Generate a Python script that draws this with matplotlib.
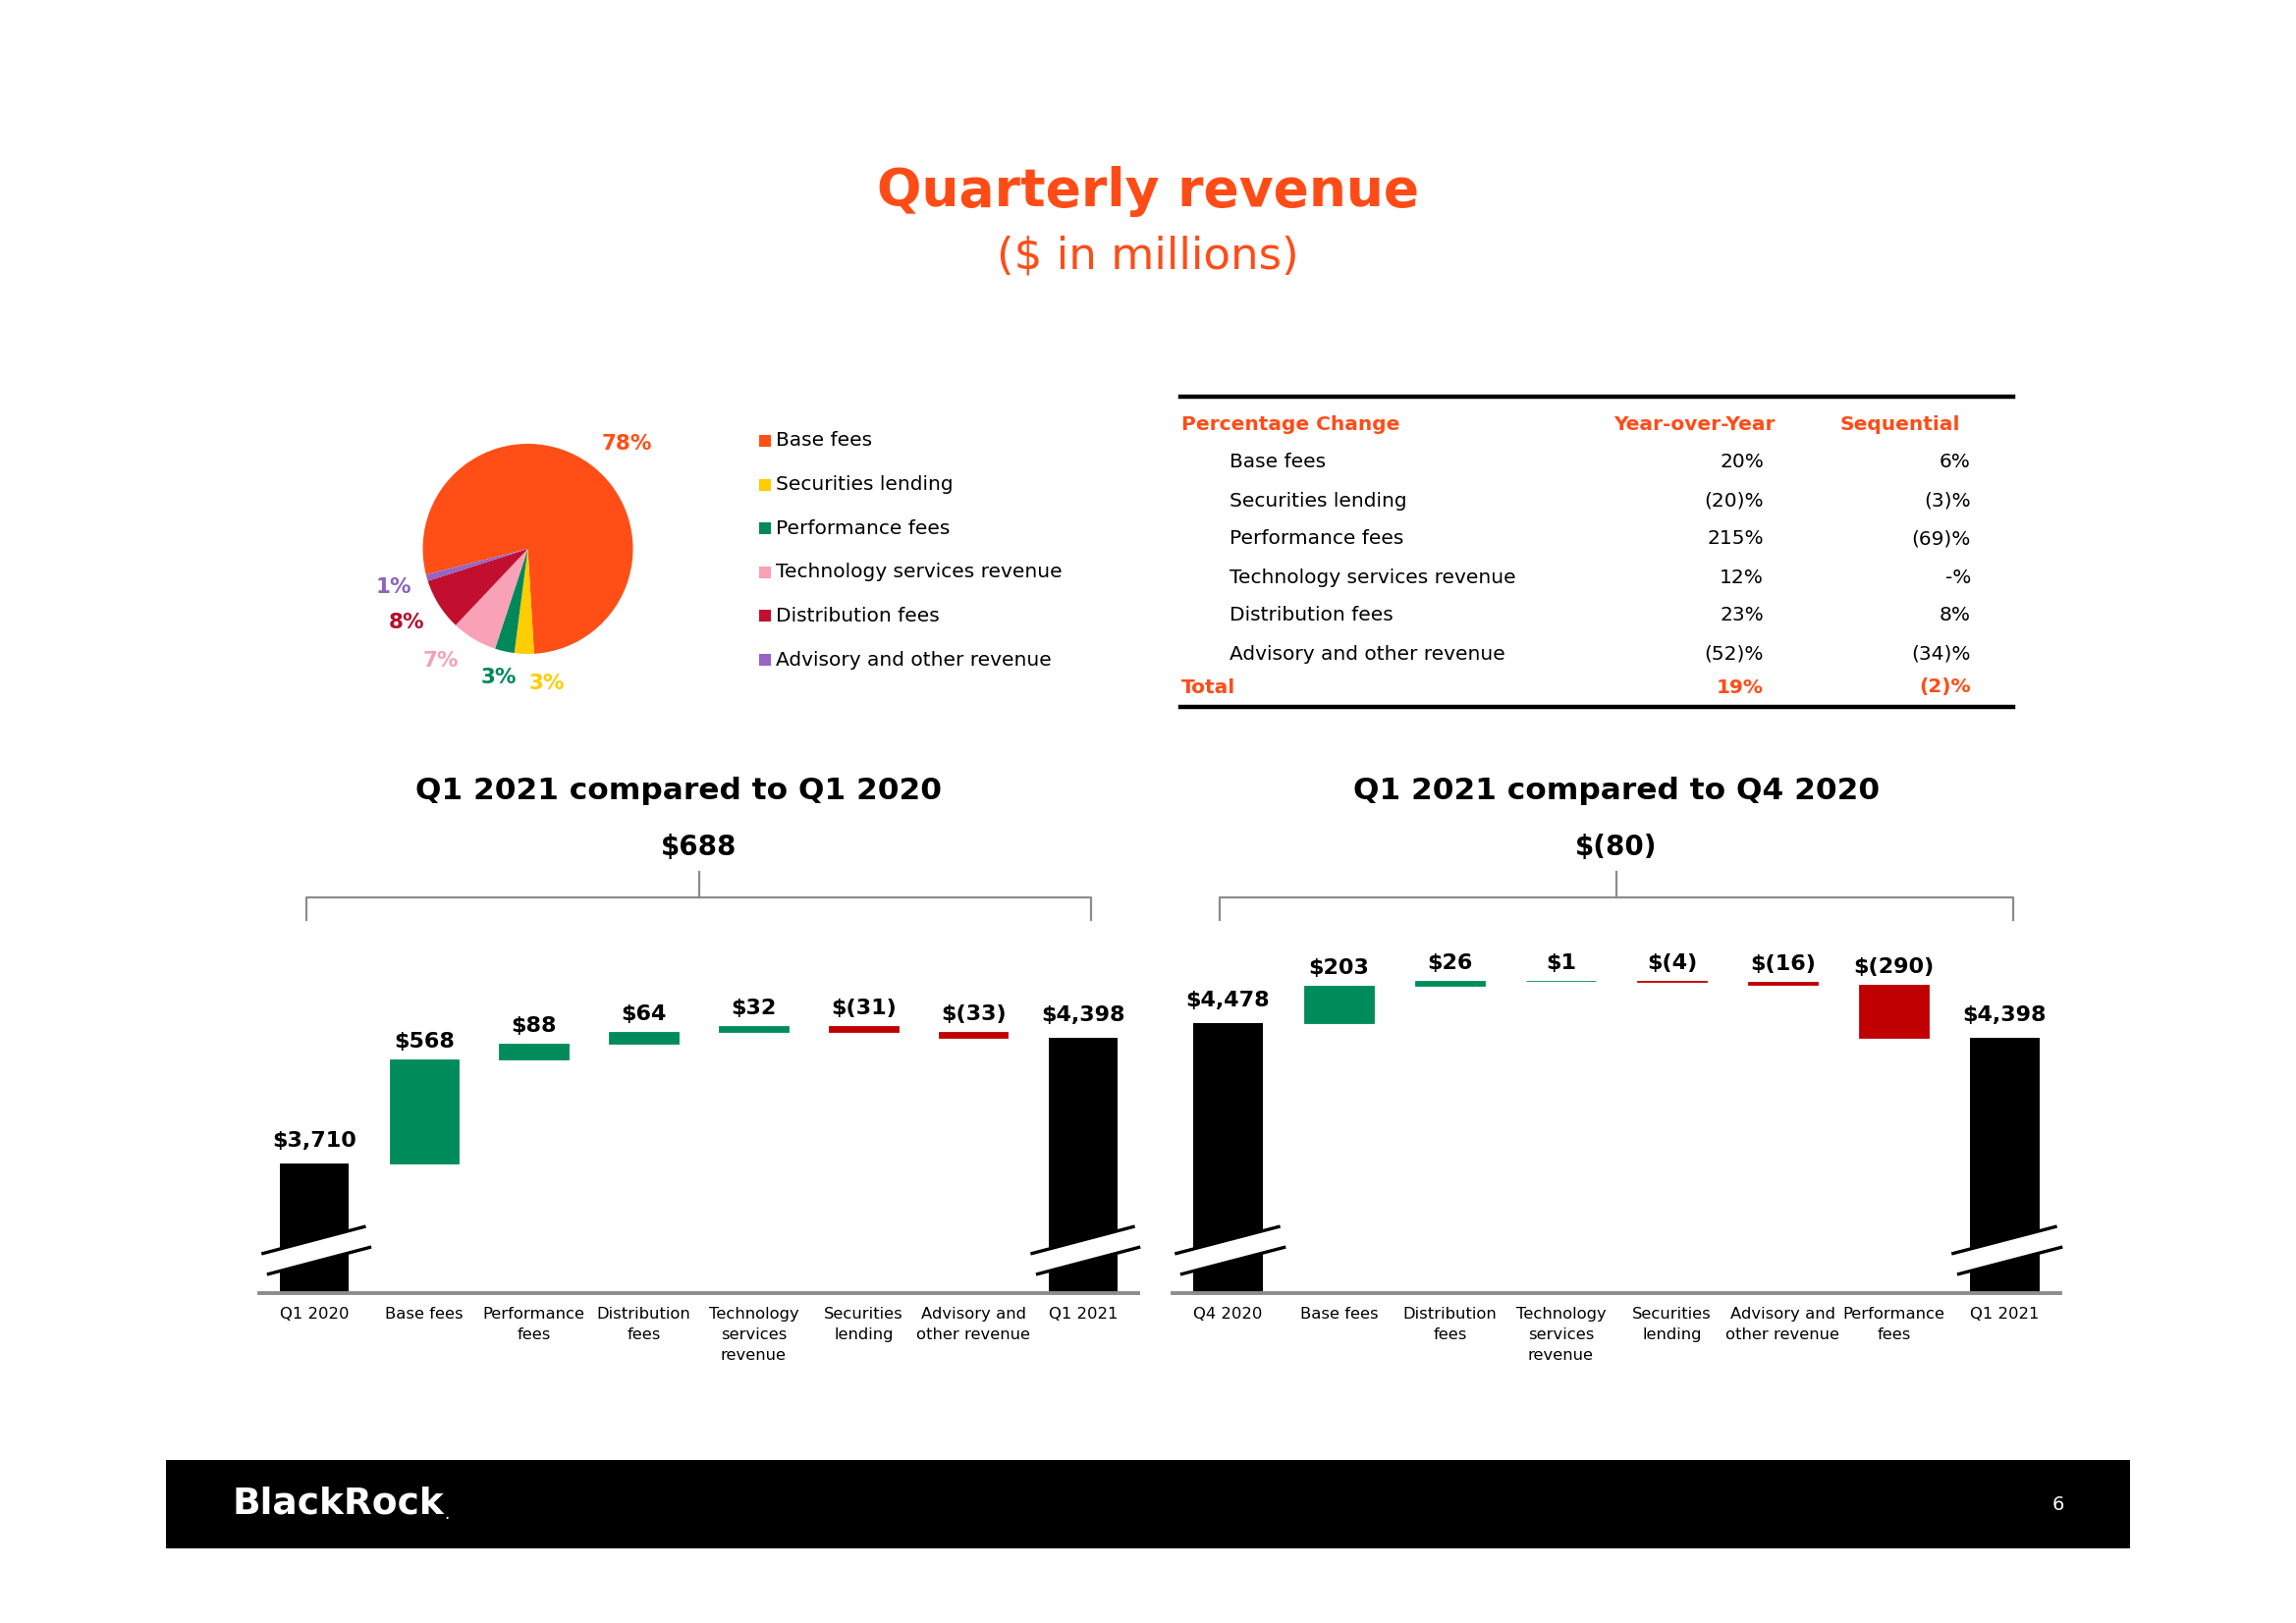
##quarterly revenue slide: pie, % change table, two waterfalls
import matplotlib
matplotlib.use('Agg')
import matplotlib.pyplot as plt
from matplotlib.patches import Rectangle, Polygon
from matplotlib.lines import Line2D
import numpy as np

#define
W, H = 2338, 1653
DPI = 100

orange = '#FF4C17'
green = '#008C5A'
red = '#C00000'
gray = '#8C8C8C'

#pie data (share of Q1 2021 revenue, %)
pie_labels = ['Base fees', 'Securities lending', 'Performance fees',
              'Technology services revenue', 'Distribution fees',
              'Advisory and other revenue']
pie_pct = [78, 3, 3, 7, 8, 1]
pie_colors = ['#FF4F17', '#FFCD00', '#00875A', '#F9A1B6', '#C20F30', '#9464C6']
pie_text_colors = ['#FF4F17', '#FFCD00', '#00875A', '#F4A0B8', '#B5102E', '#8E63BE']

#table data
tbl_rows = ['Base fees', 'Securities lending', 'Performance fees',
            'Technology services revenue', 'Distribution fees',
            'Advisory and other revenue']
tbl_yoy = ['20%', '(20)%', '215%', '12%', '23%', '(52)%']
tbl_seq = ['6%', '(3)%', '(69)%', '-%', '8%', '(34)%']
tbl_total = ['19%', '(2)%']

#waterfall data ($ in millions)
yoy_cats = ['Q1 2020', 'Base fees', 'Performance\nfees', 'Distribution\nfees',
            'Technology\nservices\nrevenue', 'Securities\nlending',
            'Advisory and\nother revenue', 'Q1 2021']
yoy_vals = [3710, 568, 88, 64, 32, -31, -33, 4398]
yoy_change = 688

seq_cats = ['Q4 2020', 'Base fees', 'Distribution\nfees',
            'Technology\nservices\nrevenue', 'Securities\nlending',
            'Advisory and\nother revenue', 'Performance\nfees', 'Q1 2021']
seq_vals = [4478, 203, 26, 1, -4, -16, -290, 4398]
seq_change = -80

Y0, Y1 = 3000, 5400


def fx(x):
    return x / W


def fy(y):
    return 1 - y / H


def px_rect(x0, y0, x1, y1):
    return [x0 / W, 1 - y1 / H, (x1 - x0) / W, (y1 - y0) / H]


def money(v):
    return f'${v:,}' if v >= 0 else f'$({-v:,})'


fig = plt.figure(figsize=(W / DPI, H / DPI), dpi=DPI)
fig.patch.set_facecolor('white')

#titles
fig.text(0.5, fy(195), 'Quarterly revenue', ha='center', va='center',
         fontsize=38.5, fontweight='heavy', color=orange)
fig.text(0.5, fy(261), '($ in millions)', ha='center', va='center',
         fontsize=32.5, color=orange)

#pie
axp = fig.add_axes(px_rect(537.5 - 214, 559 - 214, 537.5 + 214, 559 + 214))
wedges, _ = axp.pie(pie_pct, colors=pie_colors, startangle=194.2,
                    counterclock=False, radius=1,
                    wedgeprops=dict(linewidth=0))
axp.set_xlim(-2, 2)
axp.set_ylim(-2, 2)
axp.axis('off')
label_nudge = [-7, 10, 0, -7, -1, 0]
label_dist = [1.37, 1.29, 1.26, 1.35, 1.35, 1.33]
for w, p, c, dn, dd in zip(wedges, pie_pct, pie_text_colors, label_nudge, label_dist):
    ang = np.deg2rad((w.theta1 + w.theta2) / 2 + dn)
    axp.text(dd * np.cos(ang), dd * np.sin(ang), f'{p}%', color=c,
             ha='center', va='center', fontsize=15.5, fontweight='bold')

#pie legend
for i, (lab, c) in enumerate(zip(pie_labels, pie_colors)):
    y = 449 + 44.6 * i
    fig.add_artist(Rectangle((fx(773), fy(y + 6)), 12 / W, 12 / H,
                             transform=fig.transFigure, color=c, lw=0))
    fig.text(fx(790), fy(y), lab, ha='left', va='center', fontsize=14.5)

#table
for y in (404, 720):
    fig.add_artist(Line2D([fx(1202), fx(2050)], [fy(y), fy(y)], color='black',
                          lw=3.2, transform=fig.transFigure))
fig.text(fx(1203), fy(432), 'Percentage Change', ha='left', va='center',
         fontsize=14.5, fontweight='bold', color=orange)
fig.text(fx(1725), fy(432), 'Year-over-Year', ha='center', va='center',
         fontsize=14.5, fontweight='bold', color=orange)
fig.text(fx(1935), fy(432), 'Sequential', ha='center', va='center',
         fontsize=14.5, fontweight='bold', color=orange)
for i, (lab, a, b) in enumerate(zip(tbl_rows, tbl_yoy, tbl_seq)):
    y = 471 + 39 * i
    fig.text(fx(1252), fy(y), lab, ha='left', va='center', fontsize=14.5)
    fig.text(fx(1796), fy(y), a, ha='right', va='center', fontsize=14.5)
    fig.text(fx(2007), fy(y), b, ha='right', va='center', fontsize=14.5)
fig.text(fx(1203), fy(700), 'Total', ha='left', va='center',
         fontsize=14.5, fontweight='bold', color=orange)
fig.text(fx(1796), fy(700), tbl_total[0], ha='right', va='center',
         fontsize=14.5, fontweight='bold', color=orange)
fig.text(fx(2007), fy(700), tbl_total[1], ha='right', va='center',
         fontsize=14.5, fontweight='bold', color=orange)


def waterfall(rect, cats, vals, change):
    ax = fig.add_axes(px_rect(*rect))
    ax.set_xlim(-0.5, 7.5)
    ax.set_ylim(Y0, Y1)
    ppu = (rect[3] - rect[1]) / (Y1 - Y0)  # pixels per $
    level = 0
    n = len(vals)
    for i, v in enumerate(vals):
        if i == 0 or i == n - 1:
            ax.bar(i, v - Y0, bottom=Y0, width=0.63, color='black', zorder=2)
            top = v
            level = v
            gap = 17
        else:
            bottom = level if v > 0 else level + v
            c = green if v > 0 else red
            ax.bar(i, abs(v), bottom=bottom, width=0.63, color=c,
                   edgecolor=c, linewidth=0.6, zorder=2)
            top = max(level, level + v)
            level += v
            gap = 12
        ax.annotate(money(v), (i, top), xytext=(0, gap * 0.72),
                    textcoords='offset points', ha='center', va='baseline',
                    fontsize=16, fontweight='bold', zorder=4)

    #axis break marks on the two total bars
    for i in (0, n - 1):
        up = [(i - 0.48, Y0 + 40 / ppu), (i + 0.47, Y0 + 68 / ppu)]
        lo = [(i - 0.43, Y0 + 19 / ppu), (i + 0.52, Y0 + 47 / ppu)]
        ax.add_patch(Polygon([up[0], up[1], lo[1], lo[0]], closed=True,
                             facecolor='white', edgecolor='none', zorder=3,
                             clip_on=False))
        for seg in (up, lo):
            ax.plot([seg[0][0], seg[1][0]], [seg[0][1], seg[1][1]],
                    color='black', lw=2.4, zorder=3, clip_on=False,
                    solid_capstyle='butt')

    #bracket with total change
    yb = Y0 + 403 / ppu
    ax.plot([-0.075, -0.075, 7.075, 7.075],
            [yb - 23 / ppu, yb, yb, yb - 23 / ppu],
            color=gray, lw=1.6, clip_on=False)
    ax.plot([3.5, 3.5], [yb, yb + 26 / ppu], color=gray, lw=1.6, clip_on=False)
    ax.text(3.5, yb + 51 / ppu, money(change), ha='center', va='center',
            fontsize=20, fontweight='bold')

    for s in ('top', 'right', 'left'):
        ax.spines[s].set_visible(False)
    ax.spines['bottom'].set_color(gray)
    ax.spines['bottom'].set_linewidth(2.8)
    ax.set_yticks([])
    ax.set_xticks(range(n))
    ax.set_xticklabels(cats, fontsize=11.8, linespacing=1.5)
    ax.tick_params(axis='x', length=0, pad=10)
    ax.patch.set_visible(False)
    return ax


waterfall((264, 870.5, 1159, 1317), yoy_cats, yoy_vals, yoy_change)
waterfall((1194, 870.5, 2098, 1317), seq_cats, seq_vals, seq_change)

fig.text(fx(691), fy(805), 'Q1 2021 compared to Q1 2020', ha='center',
         va='center', fontsize=22.5, fontweight='bold')
fig.text(fx(1646), fy(805), 'Q1 2021 compared to Q4 2020', ha='center',
         va='center', fontsize=22.5, fontweight='bold')

#footer band
fig.add_artist(Rectangle((fx(169), fy(1577)), 2000 / W, 90 / H,
                         transform=fig.transFigure, color='black', lw=0))
fig.text(fx(236), fy(1532), 'BlackRock', ha='left', va='center',
         fontsize=27, fontweight='heavy', color='white')
fig.text(fx(452), fy(1542), '.', ha='left', va='center',
         fontsize=12, color='white')
fig.text(fx(2096), fy(1533), '6', ha='center', va='center',
         fontsize=14, color='white')

#save to .png
fig.savefig('out.png', dpi=DPI)
